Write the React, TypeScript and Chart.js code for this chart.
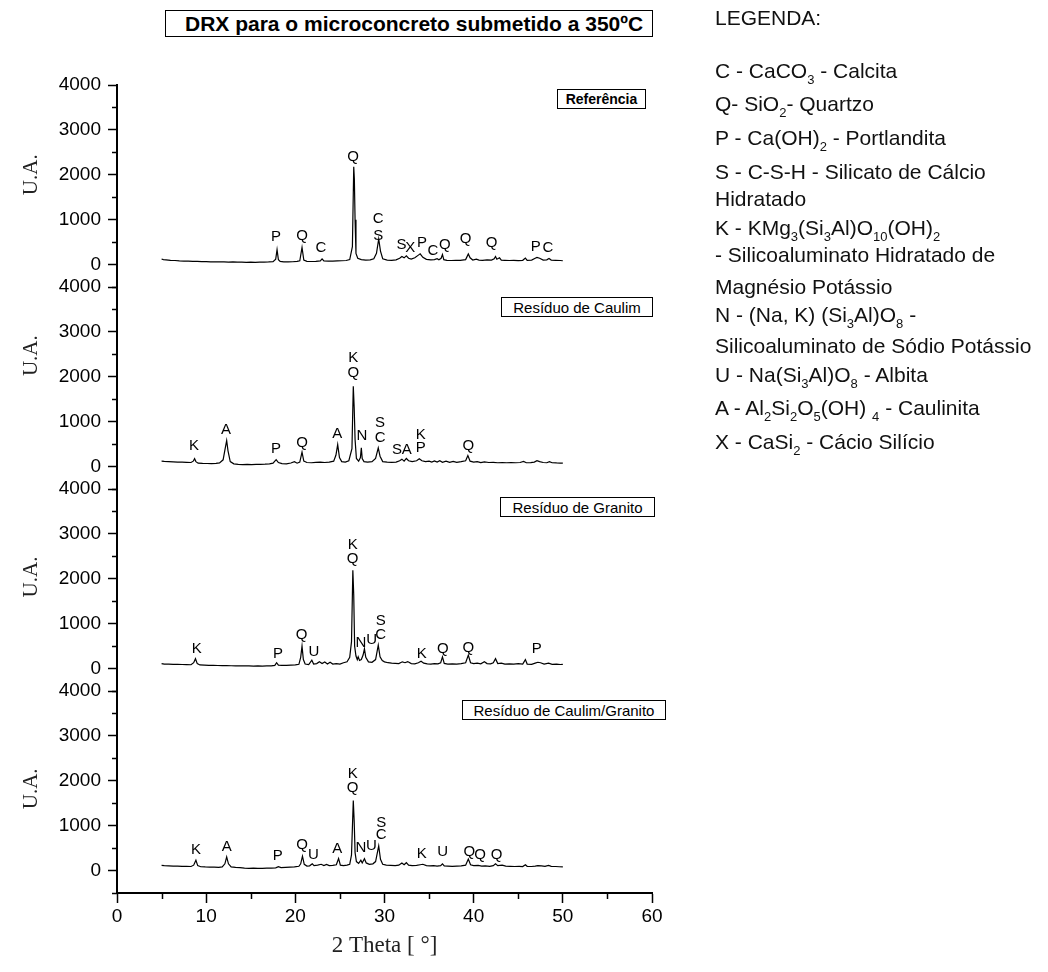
import React, { useEffect, useRef } from 'react';
import { Chart, registerables } from 'chart.js';

Chart.register(...registerables);

type Pt = [number, number];
type Lbl = [number, number, string];

// ---- Diffraction patterns: [2θ (°), intensity (U.A.)] ----
const referenciaPattern: Pt[] = [
  [5.0,125],[5.2,110],[5.5,105],[6.0,95],[6.5,90],[7.0,82],[7.5,78],[8.0,75],[8.5,70],[9.0,72],[9.5,66],[10.0,64],[10.5,60],[11.0,62],[11.5,58],[12.0,60],[12.5,55],[13.0,58],[13.5,52],[14.0,55],[14.5,50],[15.0,52],[15.5,48],[16.0,52],[16.5,55],[17.0,58],[17.5,65],[17.8,120],[17.95,330],[18.1,110],[18.3,70],[18.7,60],[19.2,58],[19.7,62],[20.2,70],[20.5,85],[20.75,380],[20.95,100],[21.3,70],[21.8,68],[22.3,72],[22.8,80],[23.0,125],[23.2,80],[23.7,75],[24.2,78],[24.7,82],[25.2,85],[25.7,90],[26.1,110],[26.4,400],[26.55,2180],[26.62,1900],[26.7,1000],[26.8,250],[27.0,140],[27.4,110],[27.9,100],[28.4,105],[28.8,130],[29.1,250],[29.35,570],[29.55,300],[29.8,130],[30.3,100],[30.8,95],[31.3,105],[31.7,140],[31.95,180],[32.2,150],[32.45,195],[32.7,140],[33.0,120],[33.4,150],[33.8,210],[34.0,240],[34.3,160],[34.7,115],[35.2,105],[35.6,110],[35.9,130],[36.1,105],[36.35,140],[36.5,225],[36.65,110],[37.0,95],[37.5,90],[38.0,92],[38.5,95],[39.1,110],[39.4,235],[39.6,150],[39.9,100],[40.3,120],[40.6,100],[41.0,95],[41.5,105],[42.0,100],[42.3,130],[42.45,180],[42.6,120],[42.9,150],[43.1,100],[43.5,95],[44.0,90],[44.5,92],[45.0,88],[45.5,95],[45.8,145],[46.0,95],[46.5,100],[46.9,140],[47.1,160],[47.4,140],[47.8,100],[48.2,105],[48.45,135],[48.7,100],[49.2,95],[49.7,90],[50.0,85]
];

const caulimPattern: Pt[] = [
  [5.0,120],[5.3,115],[5.8,110],[6.3,105],[6.8,100],[7.3,98],[7.8,95],[8.3,90],[8.55,120],[8.7,175],[8.85,110],[9.1,75],[9.6,70],[10.1,68],[10.6,66],[11.1,70],[11.5,80],[11.9,150],[12.15,420],[12.3,580],[12.45,350],[12.7,110],[13.1,60],[13.6,50],[14.1,45],[14.6,48],[15.1,45],[15.6,50],[16.1,48],[16.6,52],[17.1,60],[17.5,75],[17.85,155],[18.1,90],[18.5,65],[19.0,60],[19.5,80],[19.9,110],[20.2,75],[20.5,100],[20.75,320],[20.95,120],[21.3,90],[21.8,85],[22.3,95],[22.8,100],[23.3,90],[23.8,100],[24.3,120],[24.55,250],[24.75,490],[24.95,200],[25.2,110],[25.6,100],[26.0,130],[26.35,400],[26.5,1790],[26.6,1310],[26.7,600],[26.85,180],[27.1,120],[27.3,200],[27.4,420],[27.5,180],[27.7,110],[28.1,100],[28.6,110],[29.0,180],[29.3,415],[29.5,230],[29.8,110],[30.3,100],[30.8,95],[31.3,100],[31.7,130],[31.95,165],[32.2,120],[32.45,180],[32.7,130],[33.1,110],[33.6,130],[33.9,175],[34.2,130],[34.6,110],[35.0,120],[35.3,100],[35.6,125],[35.9,100],[36.2,130],[36.5,95],[36.9,120],[37.3,95],[37.7,115],[38.1,95],[38.6,110],[39.1,130],[39.35,245],[39.6,120],[40.0,100],[40.4,110],[40.8,90],[41.2,105],[41.7,90],[42.2,95],[42.7,85],[43.2,90],[43.7,85],[44.2,88],[44.7,85],[45.2,90],[45.6,115],[45.9,85],[46.4,88],[46.8,100],[47.1,130],[47.4,110],[47.8,90],[48.2,85],[48.5,110],[48.8,85],[49.3,80],[49.7,78],[50.0,75]
];

const granitoPattern: Pt[] = [
  [5.0,110],[5.3,100],[5.8,98],[6.3,95],[6.8,92],[7.3,90],[7.8,88],[8.3,85],[8.6,130],[8.8,220],[9.0,110],[9.3,80],[9.8,75],[10.3,72],[10.8,70],[11.3,68],[11.8,66],[12.3,64],[12.8,62],[13.3,60],[13.8,62],[14.3,58],[14.8,60],[15.3,56],[15.8,58],[16.3,55],[16.8,58],[17.3,60],[17.7,70],[17.9,130],[18.1,75],[18.5,70],[19.0,72],[19.5,75],[20.0,80],[20.4,95],[20.6,250],[20.75,500],[20.9,200],[21.1,100],[21.5,90],[21.85,185],[22.05,100],[22.4,110],[22.7,150],[23.0,110],[23.3,145],[23.6,100],[23.9,140],[24.2,100],[24.6,110],[25.0,100],[25.4,130],[25.8,150],[26.1,250],[26.3,600],[26.45,2190],[26.55,1630],[26.65,500],[26.8,280],[26.95,200],[27.05,260],[27.2,180],[27.4,200],[27.6,300],[27.75,440],[27.9,250],[28.2,150],[28.6,140],[29.0,200],[29.3,520],[29.5,260],[29.75,180],[30.0,150],[30.4,130],[30.8,120],[31.2,115],[31.6,110],[32.0,150],[32.3,130],[32.6,155],[33.0,110],[33.4,105],[33.8,130],[34.1,165],[34.4,120],[34.8,105],[35.2,100],[35.6,110],[36.0,105],[36.3,130],[36.5,260],[36.7,115],[37.1,100],[37.6,105],[38.1,100],[38.6,110],[39.1,130],[39.4,300],[39.65,130],[40.0,110],[40.4,120],[40.8,105],[41.2,150],[41.5,110],[41.9,105],[42.2,130],[42.45,220],[42.7,110],[43.1,120],[43.5,100],[44.0,105],[44.5,100],[45.0,110],[45.5,100],[45.8,200],[46.0,100],[46.5,95],[46.9,120],[47.2,140],[47.5,130],[47.9,100],[48.4,120],[48.8,95],[49.3,100],[49.7,90],[50.0,95]
];

const caulimGranitoPattern: Pt[] = [
  [5.0,115],[5.3,110],[5.8,105],[6.3,100],[6.8,98],[7.3,95],[7.8,92],[8.3,90],[8.6,120],[8.85,230],[9.05,110],[9.4,85],[9.9,80],[10.4,78],[10.9,75],[11.4,72],[11.8,80],[12.1,150],[12.3,305],[12.5,150],[12.8,80],[13.3,70],[13.8,65],[14.3,55],[14.8,50],[15.3,52],[15.8,48],[16.3,50],[16.8,52],[17.3,55],[17.8,60],[18.1,85],[18.4,65],[18.9,70],[19.4,75],[19.9,80],[20.4,95],[20.6,150],[20.8,320],[21.0,140],[21.3,100],[21.6,105],[21.9,150],[22.1,110],[22.5,120],[22.9,140],[23.2,110],[23.5,135],[23.8,110],[24.2,115],[24.6,130],[24.85,270],[25.05,120],[25.4,110],[25.8,120],[26.1,140],[26.3,350],[26.5,1560],[26.6,1100],[26.7,400],[26.85,200],[27.1,160],[27.35,230],[27.5,170],[27.75,265],[27.95,170],[28.3,140],[28.7,150],[29.0,200],[29.35,550],[29.55,250],[29.8,140],[30.2,120],[30.7,115],[31.2,110],[31.6,120],[31.95,170],[32.2,130],[32.45,175],[32.7,120],[33.1,110],[33.6,115],[34.0,130],[34.3,140],[34.7,110],[35.1,105],[35.5,110],[35.9,100],[36.3,110],[36.5,150],[36.7,105],[37.1,100],[37.6,95],[38.1,100],[38.6,105],[39.1,120],[39.4,255],[39.65,130],[40.0,110],[40.5,115],[40.9,100],[41.3,105],[41.8,95],[42.2,110],[42.45,150],[42.7,110],[43.2,120],[43.6,100],[44.1,95],[44.6,90],[45.1,95],[45.5,90],[45.8,130],[46.0,95],[46.5,90],[46.9,100],[47.2,110],[47.6,105],[48.0,95],[48.4,115],[48.7,95],[49.2,90],[49.6,85],[50.0,80]
];

// ---- Phase labels: [2θ, intensity at label centre, letter] ----
const referenciaLabels: Lbl[] = [
  [17.83,622,'P'],[20.75,644,'Q'],[22.88,378,'C'],[26.47,2400,'Q'],[29.3,1022,'C'],[29.3,644,'S'],
  [31.9,445,'S'],[32.9,365,'X'],[34.2,478,'P'],[35.44,311,'C'],[36.78,445,'Q'],[39.1,578,'Q'],
  [42.0,489,'Q'],[46.95,400,'P'],[48.34,370,'C']
];
const caulimLabels: Lbl[] = [
  [8.64,467,'K'],[12.22,822,'A'],[17.83,393,'P'],[20.75,526,'Q'],[24.71,733,'A'],[26.5,2415,'K'],
  [26.5,2082,'Q'],[27.48,673,'N'],[29.5,971,'S'],[29.5,638,'C'],[31.4,362,'S'],[32.5,362,'A'],
  [34.06,711,'K'],[34.06,415,'P'],[39.4,467,'Q']
];
const granitoLabels: Lbl[] = [
  [8.94,444,'K'],[18.05,333,'P'],[20.71,740,'Q'],[22.09,371,'U'],[26.43,2756,'K'],[26.43,2444,'Q'],
  [27.36,578,'N'],[28.56,629,'U'],[29.57,1067,'S'],[29.57,756,'C'],[34.17,333,'K'],[36.53,444,'Q'],
  [39.4,460,'Q'],[47.07,444,'P']
];
const caulimGranitoLabels: Lbl[] = [
  [8.86,451,'K'],[12.3,527,'A'],[18.02,327,'P'],[20.75,578,'Q'],[22.02,340,'U'],[24.71,473,'A'],
  [26.43,2156,'K'],[26.43,1838,'Q'],[27.36,504,'N'],[28.52,549,'U'],[29.64,1067,'S'],[29.64,800,'C'],
  [34.17,378,'K'],[36.53,416,'U'],[39.51,416,'Q'],[40.71,356,'Q'],[42.58,356,'Q']
];

const panelNames = ['Referência', 'Resíduo de Caulim', 'Resíduo de Granito', 'Resíduo de Caulim/Granito'];
// intensity level at which each panel's "U.A." title is centred
const uaTitleLevels = [2000, 2470, 2040, 1820];
const yMajorTicks = [0, 1000, 2000, 3000, 4000];
const yMinorTicks = [-500, 500, 1500, 2500, 3500];
const xMajorTicks = [0, 10, 20, 30, 40, 50, 60];
const xMinorTicks = [5, 15, 25, 35, 45, 55];

const SANS = '"Liberation Sans", Arial, sans-serif';
const SERIF = '"Liberation Serif", "Times New Roman", serif';

const panels = [
  { axis: 'y1', pattern: referenciaPattern, labels: referenciaLabels },
  { axis: 'y2', pattern: caulimPattern, labels: caulimLabels },
  { axis: 'y3', pattern: granitoPattern, labels: granitoLabels },
  { axis: 'y4', pattern: caulimGranitoPattern, labels: caulimGranitoLabels },
];

const makeYAxis = () => ({
  type: 'linear' as const,
  position: 'left' as const,
  stack: 'panels',
  stackWeight: 1,
  min: -500,
  max: 4000,
  afterBuildTicks: (s: any) => { s.ticks = yMajorTicks.map((v) => ({ value: v })); },
  afterFit: (s: any) => { s.width = 117; },
  ticks: { color: '#000', font: { family: SANS, size: 19 }, padding: 7, callback: (v: any) => String(v) },
  grid: { drawOnChartArea: false, drawTicks: true, tickLength: 9, color: '#000', tickWidth: 1.5 },
  border: { display: true, color: '#000', width: 2 },
  title: { display: false },
});

const extrasPlugin = {
  id: 'xrdExtras',
  afterDraw(chart: any) {
    const ctx = chart.ctx;
    const xs = chart.scales.x;
    ctx.save();
    // minor ticks
    ctx.strokeStyle = '#000';
    ctx.lineWidth = 1.5;
    panels.forEach((p) => {
      const ys = chart.scales[p.axis];
      yMinorTicks.forEach((v) => {
        const py = Math.round(ys.getPixelForValue(v)) + 0.5;
        ctx.beginPath();
        ctx.moveTo(ys.right, py);
        ctx.lineTo(ys.right - 5, py);
        ctx.stroke();
      });
    });
    xMinorTicks.forEach((v) => {
      const px = Math.round(xs.getPixelForValue(v)) + 0.5;
      ctx.beginPath();
      ctx.moveTo(px, xs.top);
      ctx.lineTo(px, xs.top + 6);
      ctx.stroke();
    });
    // "U.A." titles
    ctx.fillStyle = '#222';
    ctx.font = `21px ${SERIF}`;
    ctx.textAlign = 'center';
    ctx.textBaseline = 'middle';
    panels.forEach((p, i) => {
      const ys = chart.scales[p.axis];
      ctx.save();
      ctx.translate(31, ys.getPixelForValue(uaTitleLevels[i]));
      ctx.rotate(-Math.PI / 2);
      ctx.fillText('U.A.', 0, 0);
      ctx.restore();
    });
    // phase letters
    ctx.fillStyle = '#000';
    ctx.font = `15px ${SANS}`;
    panels.forEach((p) => {
      const ys = chart.scales[p.axis];
      p.labels.forEach(([t, v, s]) => {
        ctx.fillText(s, xs.getPixelForValue(t), ys.getPixelForValue(v));
      });
    });
    ctx.restore();
  },
};

const boxStyle = (left: number, top: number, width: number, height: number, bold: boolean, size: number): React.CSSProperties => ({
  position: 'absolute', left, top, width, height, boxSizing: 'border-box', border: '1px solid #000',
  display: 'flex', alignItems: 'center', justifyContent: 'center', fontFamily: SANS,
  fontWeight: bold ? 'bold' : 'normal', fontSize: size, color: '#000', background: '#fff', whiteSpace: 'nowrap',
});

const subS: React.CSSProperties = { fontSize: 13, verticalAlign: -6, lineHeight: 0 };

export default function App() {
  const ref = useRef<HTMLCanvasElement | null>(null);

  useEffect(() => {
    if (!ref.current) return;
    const chart = new Chart(ref.current, {
      type: 'line',
      data: {
        datasets: panels.map((p, i) => ({
          label: panelNames[i],
          data: p.pattern.map(([x, y]) => ({ x, y })),
          yAxisID: p.axis,
          borderColor: '#000',
          borderWidth: 1.2,
          pointRadius: 0,
          tension: 0,
          fill: false,
        })),
      },
      options: {
        animation: false,
        responsive: false,
        maintainAspectRatio: false,
        devicePixelRatio: 1,
        layout: { padding: { left: 0, top: 85, right: 396, bottom: 0 } },
        plugins: { legend: { display: false }, tooltip: { enabled: false }, title: { display: false } },
        scales: {
          x: {
            type: 'linear',
            position: 'bottom',
            min: 0,
            max: 60,
            afterBuildTicks: (s: any) => { s.ticks = xMajorTicks.map((v) => ({ value: v })); },
            afterFit: (s: any) => { s.height = 79; },
            ticks: { color: '#000', font: { family: SANS, size: 19 }, padding: 2, maxRotation: 0, autoSkip: false },
            grid: { drawOnChartArea: false, drawTicks: true, tickLength: 10, color: '#000', tickWidth: 1.5 },
            border: { display: true, color: '#000', width: 2 },
            title: { display: true, text: '2 Theta [ °]', color: '#222', font: { family: SERIF, size: 23 }, padding: { top: 0, bottom: 12 } },
          },
          y4: makeYAxis(),
          y3: makeYAxis(),
          y2: makeYAxis(),
          y1: makeYAxis(),
        } as any,
      },
      plugins: [extrasPlugin],
    });
    return () => chart.destroy();
  }, []);

  const legendLine = (top: number, content: React.ReactNode) => (
    <div style={{ position: 'absolute', left: 715, top: top - 12, height: 24, lineHeight: '24px', fontFamily: SANS, fontSize: 21, color: '#111', whiteSpace: 'nowrap' }}>
      {content}
    </div>
  );

  return (
    <div style={{ position: 'absolute', left: 0, top: 0, width: 1048, height: 972, background: '#fff', overflow: 'hidden' }}>
      <canvas ref={ref} width={1048} height={972} style={{ position: 'absolute', left: 0, top: 0 }} />
      <div style={{ ...boxStyle(165, 10, 488, 27, true, 21), justifyContent: 'flex-start', paddingLeft: 19 }}>
        DRX para o microconcreto submetido a 350ºC
      </div>
      <div style={boxStyle(557, 89, 89, 20, true, 14)}>{panelNames[0]}</div>
      <div style={boxStyle(501, 297, 152, 20, false, 15)}>{panelNames[1]}</div>
      <div style={boxStyle(500, 497, 155, 20, false, 15)}>{panelNames[2]}</div>
      <div style={boxStyle(462, 700, 204, 20, false, 15)}>{panelNames[3]}</div>
      {legendLine(18, 'LEGENDA:')}
      {legendLine(71, <>C - CaCO<sub style={subS}>3</sub> - Calcita</>)}
      {legendLine(104, <>Q- SiO<sub style={subS}>2</sub>- Quartzo</>)}
      {legendLine(138, <>P - Ca(OH)<sub style={subS}>2</sub> - Portlandita</>)}
      {legendLine(172, <>S - C-S-H - Silicato de Cálcio</>)}
      {legendLine(199, <>Hidratado</>)}
      {legendLine(228, <>K - KMg<sub style={subS}>3</sub>(Si<sub style={subS}>3</sub>Al)O<sub style={subS}>10</sub>(OH)<sub style={subS}>2</sub></>)}
      {legendLine(255, <>- Silicoaluminato Hidratado de</>)}
      {legendLine(287, <>Magnésio Potássio</>)}
      {legendLine(315, <>N - (Na, K) (Si<sub style={subS}>3</sub>Al)O<sub style={subS}>8</sub> -</>)}
      {legendLine(346, <>Silicoaluminato de Sódio Potássio</>)}
      {legendLine(375, <>U - Na(Si<sub style={subS}>3</sub>Al)O<sub style={subS}>8</sub> - Albita</>)}
      {legendLine(408, <>A - Al<sub style={subS}>2</sub>Si<sub style={subS}>2</sub>O<sub style={subS}>5</sub>(OH) <sub style={subS}>4</sub> - Caulinita</>)}
      {legendLine(442, <>X - CaSi<sub style={subS}>2</sub> - Cácio Silício</>)}
    </div>
  );
}
